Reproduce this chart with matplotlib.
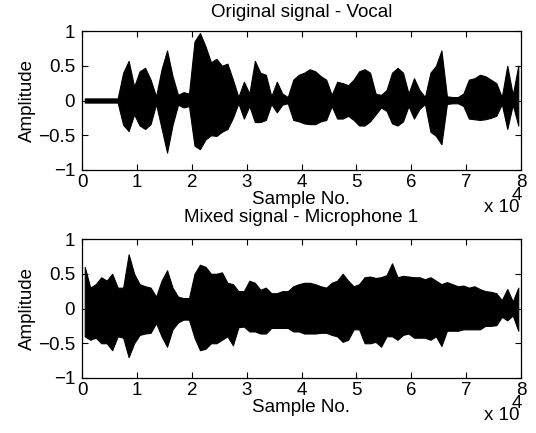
import numpy as np
import matplotlib
matplotlib.use("Agg")
import matplotlib.pyplot as plt

plt.rcParams['font.family'] = ['Liberation Sans', 'DejaVu Sans']

# Envelope of each signal read per 1000-sample block (block start sample)
block_start = np.arange(0, 80000, 1000)

vocal_upper = [0.03, 0.03, 0.03, 0.03, 0.03, 0.03, 0.03, 0.40, 0.57, 0.20,
               0.42, 0.47, 0.30, 0.06, 0.45, 0.72, 0.35, 0.08, 0.12, 0.10,
               0.85, 0.97, 0.78, 0.55, 0.60, 0.50, 0.53, 0.30, 0.05, 0.27,
               0.10, 0.57, 0.40, 0.37, 0.06, 0.27, 0.10, 0.05, 0.30, 0.37,
               0.40, 0.45, 0.42, 0.35, 0.30, 0.08, 0.27, 0.25, 0.22, 0.30,
               0.42, 0.45, 0.40, 0.10, 0.08, 0.15, 0.40, 0.47, 0.40, 0.10,
               0.32, 0.15, 0.05, 0.40, 0.50, 0.72, 0.06, 0.05, 0.05, 0.10,
               0.30, 0.32, 0.37, 0.35, 0.30, 0.25, 0.05, 0.50, 0.08, 0.50]
vocal_lower = [-0.03, -0.03, -0.03, -0.03, -0.03, -0.03, -0.03, -0.35, -0.44, -0.20,
               -0.36, -0.41, -0.34, -0.05, -0.40, -0.75, -0.35, -0.06, -0.10, -0.08,
               -0.65, -0.70, -0.56, -0.50, -0.51, -0.45, -0.41, -0.25, -0.04, -0.26,
               -0.08, -0.31, -0.31, -0.28, -0.05, -0.17, -0.06, -0.04, -0.28, -0.30,
               -0.33, -0.34, -0.34, -0.30, -0.28, -0.08, -0.26, -0.26, -0.22, -0.28,
               -0.36, -0.36, -0.30, -0.20, -0.10, -0.15, -0.33, -0.36, -0.30, -0.08,
               -0.26, -0.12, -0.05, -0.45, -0.51, -0.63, -0.05, -0.04, -0.04, -0.08,
               -0.26, -0.27, -0.28, -0.27, -0.25, -0.22, -0.05, -0.41, -0.06, -0.36]

mixed_upper = [0.60, 0.30, 0.35, 0.45, 0.40, 0.50, 0.30, 0.30, 0.78, 0.50,
               0.35, 0.32, 0.30, 0.17, 0.40, 0.55, 0.30, 0.17, 0.15, 0.15,
               0.50, 0.63, 0.60, 0.50, 0.50, 0.52, 0.37, 0.35, 0.25, 0.25,
               0.40, 0.37, 0.27, 0.30, 0.22, 0.22, 0.25, 0.25, 0.32, 0.35,
               0.37, 0.37, 0.35, 0.32, 0.30, 0.37, 0.40, 0.50, 0.40, 0.32,
               0.35, 0.45, 0.46, 0.44, 0.45, 0.48, 0.65, 0.45, 0.47, 0.46,
               0.45, 0.45, 0.42, 0.45, 0.40, 0.35, 0.38, 0.35, 0.32, 0.33,
               0.30, 0.32, 0.28, 0.25, 0.24, 0.22, 0.12, 0.28, 0.10, 0.30]
mixed_lower = [-0.40, -0.45, -0.42, -0.50, -0.50, -0.60, -0.40, -0.42, -0.70, -0.50,
               -0.38, -0.36, -0.35, -0.21, -0.40, -0.55, -0.30, -0.20, -0.16, -0.16,
               -0.42, -0.60, -0.58, -0.50, -0.50, -0.45, -0.40, -0.53, -0.27, -0.26,
               -0.33, -0.33, -0.36, -0.36, -0.28, -0.28, -0.28, -0.28, -0.33, -0.33,
               -0.36, -0.36, -0.36, -0.35, -0.35, -0.38, -0.40, -0.48, -0.45, -0.30,
               -0.30, -0.50, -0.50, -0.48, -0.55, -0.40, -0.40, -0.45, -0.38, -0.36,
               -0.42, -0.42, -0.42, -0.45, -0.40, -0.54, -0.32, -0.32, -0.32, -0.30,
               -0.30, -0.30, -0.30, -0.25, -0.25, -0.24, -0.12, -0.17, -0.10, -0.32]

titles = ["Original signal - Vocal", "Mixed signal - Microphone 1"]
x_ticks = [0, 10000, 20000, 30000, 40000, 50000, 60000, 70000, 80000]
x_tick_labels = ["0", "1", "2", "3", "4", "5", "6", "7", "8"]
y_ticks = [-1, -0.5, 0, 0.5, 1]
y_tick_labels = ["\u22121", "\u22120.5", "0", "0.5", "1"]

fig = plt.figure(figsize=(5.36, 4.33), dpi=100)
W, H = 536, 433
ax1 = fig.add_axes([82 / W, 1 - 170 / H, 439 / W, 139 / H])
ax2 = fig.add_axes([82 / W, 1 - 378 / H, 439 / W, 139 / H])

fs = 13.5
centers = block_start + 500
for ax, up, lo, title, tpad in [(ax1, vocal_upper, vocal_lower, titles[0], 10),
                                (ax2, mixed_upper, mixed_lower, titles[1], 12)]:
    ax.fill_between(centers, up, lo, color='black', linewidth=0.8,
                    edgecolor='black')
    ax.set_xlim(0, 80000)
    ax.set_ylim(-1, 1)
    ax.set_xticks(x_ticks)
    ax.set_xticklabels(x_tick_labels, fontsize=fs)
    ax.set_yticks(y_ticks)
    ax.set_yticklabels(y_tick_labels, fontsize=fs)
    ax.tick_params(direction='in', top=True, right=True, length=4, width=0.8)
    ax.tick_params(axis='x', pad=3)
    ax.tick_params(axis='y', pad=5)
    for s in ax.spines.values():
        s.set_linewidth(0.9)
    ax.set_title(title, fontsize=fs, pad=tpad)
    ax.set_xlabel("Sample No.", fontsize=fs, labelpad=0)
    ax.set_ylabel("Amplitude", fontsize=fs, labelpad=1)
    ax.annotate("x 10", xy=(1.0, 0.0), xycoords='axes fraction',
                xytext=(-1, -37), textcoords='offset pixels',
                ha='right', va='center', fontsize=fs)
    ax.annotate("4", xy=(1.0, 0.0), xycoords='axes fraction',
                xytext=(-4, -25), textcoords='offset pixels',
                ha='center', va='center', fontsize=fs)

fig.savefig("out.png", dpi=100)
